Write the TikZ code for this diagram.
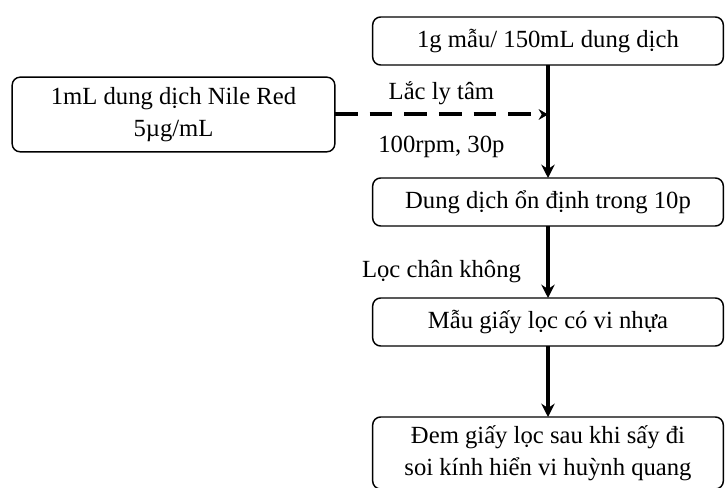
\documentclass[tikz,border=0pt]{standalone}
\usepackage{fontspec}
\setmainfont{Liberation Serif}
\usetikzlibrary{positioning, arrows.meta}
\tikzset{%
stage box/.style={
    rectangle, draw,
    line width=1.1pt,
    rounded corners=6pt,
    minimum width=263pt, minimum height=36pt,
    align=center,
    inner sep=0pt, outer sep=0pt,
    font=\fontsize{18.5}{24}\selectfont
},
flow arrow/.style={line width=2.6pt, -{Stealth[length=10pt,width=10pt]}},
dye arrow/.style={line width=3pt, dash pattern=on 17pt off 9pt,
    -{Stealth[length=7pt,width=8pt]}},
step label/.style={font=\fontsize{18.5}{24}\selectfont, inner sep=0pt},
}
\begin{document}
\begin{tikzpicture}[x=0.75pt, y=-0.75pt]
\useasboundingbox (0,0) rectangle (725,488);

\node (sample) [stage box] at (548,41) {1g mẫu/ 150mL dung dịch};
\node (settle) [stage box, below=84.75pt of sample] {Dung dịch ổn định trong 10p};
\node (filter) [stage box, below=54pt of settle] {Mẫu giấy lọc có vi nhựa};
\node (scope) [stage box, below=53.25pt of filter, minimum height=54pt] {Đem giấy lọc sau khi sấy đi\\soi kính hiển vi huỳnh quang};
\node (nile) [stage box, minimum width=242pt, minimum height=56pt] at (173.5,114.5) {1mL dung dịch Nile Red\\5µg/mL};

% shaking step
\draw [flow arrow] (sample) -- (settle);
\draw [dye arrow] (nile.east) -- (nile.east -| sample.south)
    node[midway, step label, yshift=16pt] {Lắc ly tâm}
    node[midway, step label, yshift=-24pt] {100rpm, 30p};
% filtering
\draw [flow arrow] (settle) -- (filter)
    node[midway, step label, left=19pt, yshift=-7pt] {Lọc chân không};
\draw [flow arrow] (filter) -- (scope);
\end{tikzpicture}
\end{document}
